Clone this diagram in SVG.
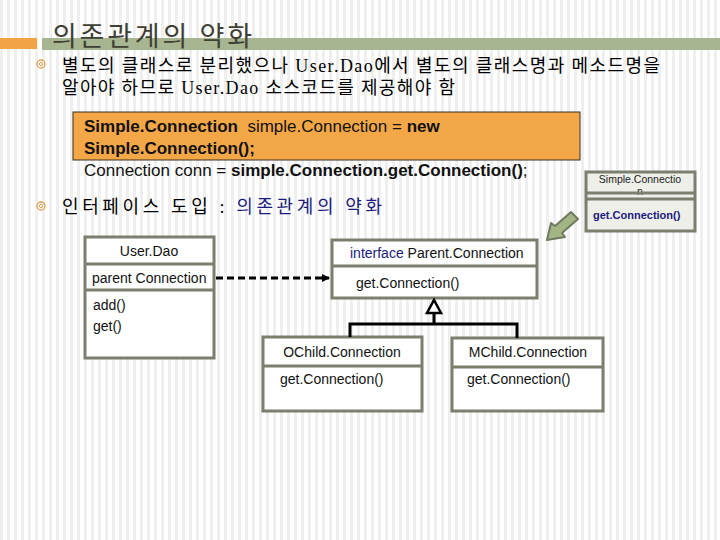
<svg xmlns="http://www.w3.org/2000/svg" width="720" height="540" viewBox="0 0 720 540">
<defs>
<pattern id="stripes" x="0" y="0" width="7" height="10" patternUnits="userSpaceOnUse">
<rect x="0" y="0" width="3" height="10" fill="#efefef"/>
</pattern>
<marker id="arrowFill" markerWidth="8" markerHeight="8" refX="7" refY="4" orient="auto" markerUnits="userSpaceOnUse">
<path d="M0,0 L8,4 L0,8 Z" fill="#000"/>
</marker>
<g id="bullet">
<circle cx="0" cy="0" r="4" fill="none" stroke="#e0a050" stroke-width="1.3"/>
<circle cx="0" cy="0" r="1.6" fill="none" stroke="#e0a050" stroke-width="1"/>
</g>
</defs>
<style>
.kr{font-family:"Liberation Serif","Noto Sans CJK KR",serif;fill:#000}
.ar{font-family:"Liberation Sans",Arial,sans-serif;fill:#000}
.box{fill:#fff;stroke:#7a7f6e;stroke-width:3}
.sbox{fill:#eeefe8;stroke:#7a7f6e;stroke-width:3}
.uml{font-family:"Liberation Sans",Arial,sans-serif;font-size:14px;fill:#111}
.code{font-family:"Liberation Sans",Arial,sans-serif;font-size:17px;fill:#111}
.b{font-weight:bold}
.line{fill:none;stroke:#000;stroke-width:3}
</style>
<rect width="720" height="540" fill="#fff"/>
<rect width="720" height="540" fill="url(#stripes)"/>

<g id="title">
<rect x="0" y="38" width="37" height="11" fill="#f2a444"/>
<rect x="42" y="38" width="678" height="12" fill="#a7b690"/>
<text x="52" y="46" class="kr" font-size="27" style="fill:#3f4034" textLength="200">의존관계의 약화</text>
</g>

<g id="bullet1">
<use href="#bullet" x="41" y="64"/>
<text x="62" y="72" class="kr" font-size="18" textLength="598">별도의 클래스로 분리했으나 User.Dao에서 별도의 클래스명과 메소드명을</text>
<text x="62" y="94" class="kr" font-size="18" textLength="393">알아야 하므로 User.Dao 소스코드를 제공해야 함</text>
</g>

<g id="codebox">
<rect x="73" y="112" width="507" height="48" fill="#f3a747" stroke="#3a3020" stroke-width="1"/>
<text x="84" y="132" class="code"><tspan class="b">Simple.Connection</tspan>&#160; simple.Connection = <tspan class="b">new</tspan></text>
<text x="84" y="154" class="code b">Simple.Connection();</text>
<text x="84" y="176" class="code">Connection conn = <tspan class="b">simple.Connection.get.Connection()</tspan>;</text>
</g>

<g id="bullet2">
<use href="#bullet" x="41" y="206"/>
<text x="62" y="213" class="kr" font-size="18" textLength="320">인터페이스 도입 : <tspan style="fill:#1a1a80">의존관계의 약화</tspan></text>
</g>

<g id="simpleconnection">
<rect x="586" y="172" width="109" height="59" class="sbox"/>
<text x="640" y="183" class="ar" font-size="10.5" text-anchor="middle" style="fill:#222">Simple.Connectio</text>
<text x="640" y="195" class="ar" font-size="10.5" text-anchor="middle" style="fill:#222">n</text>
<line x1="586" y1="193" x2="695" y2="193" stroke="#7a7f6e" stroke-width="3"/>
<line x1="586" y1="199" x2="695" y2="199" stroke="#7a7f6e" stroke-width="3"/>
<text x="593" y="219" class="ar b" font-size="11" style="fill:#1a1a80">get.Connection()</text>
</g>

<g id="greenarrow">
<polygon points="571,212 578,219 562,233 565,237 547,240 551,223 555,226" fill="#a3b585" stroke="#6f7a60" stroke-width="2" stroke-linejoin="round"/>
</g>

<g id="userdao">
<rect x="85" y="237" width="129" height="121" class="box"/>
<line x1="85" y1="264" x2="214" y2="264" stroke="#7a7f6e" stroke-width="3"/>
<line x1="85" y1="290" x2="214" y2="290" stroke="#7a7f6e" stroke-width="3"/>
<text x="149" y="256" class="uml" text-anchor="middle">User.Dao</text>
<text x="92" y="283" class="uml">parent Connection</text>
<text x="93" y="310" class="uml">add()</text>
<text x="93" y="331" class="uml">get()</text>
</g>

<g id="parentconnection">
<rect x="332" y="240" width="205" height="58" class="box"/>
<line x1="332" y1="266" x2="537" y2="266" stroke="#7a7f6e" stroke-width="3"/>
<text x="350" y="258" class="uml"><tspan style="fill:#1a1a80">interface</tspan> Parent.Connection</text>
<text x="356" y="288" class="uml">get.Connection()</text>
</g>

<g id="ochildconnection">
<rect x="263" y="337" width="159" height="74" class="box"/>
<line x1="263" y1="366" x2="422" y2="366" stroke="#7a7f6e" stroke-width="3"/>
<text x="342" y="357" class="uml" text-anchor="middle">OChild.Connection</text>
<text x="280" y="384" class="uml">get.Connection()</text>
</g>

<g id="mchildconnection">
<rect x="452" y="338" width="151" height="73" class="box"/>
<line x1="452" y1="367" x2="603" y2="367" stroke="#7a7f6e" stroke-width="3"/>
<text x="528" y="357" class="uml" text-anchor="middle">MChild.Connection</text>
<text x="467" y="384" class="uml">get.Connection()</text>
</g>

<g id="connectors">
<line x1="216" y1="278" x2="329" y2="278" stroke="#000" stroke-width="3" stroke-dasharray="7,4" marker-end="url(#arrowFill)"/>
<polygon points="434,300 441,313 427,313" fill="#fff" stroke="#000" stroke-width="2.5"/>
<line x1="434" y1="313" x2="434" y2="324" class="line"/>
<polyline points="350,337 350,324 517,324 517,338" class="line"/>
</g>
</svg>
